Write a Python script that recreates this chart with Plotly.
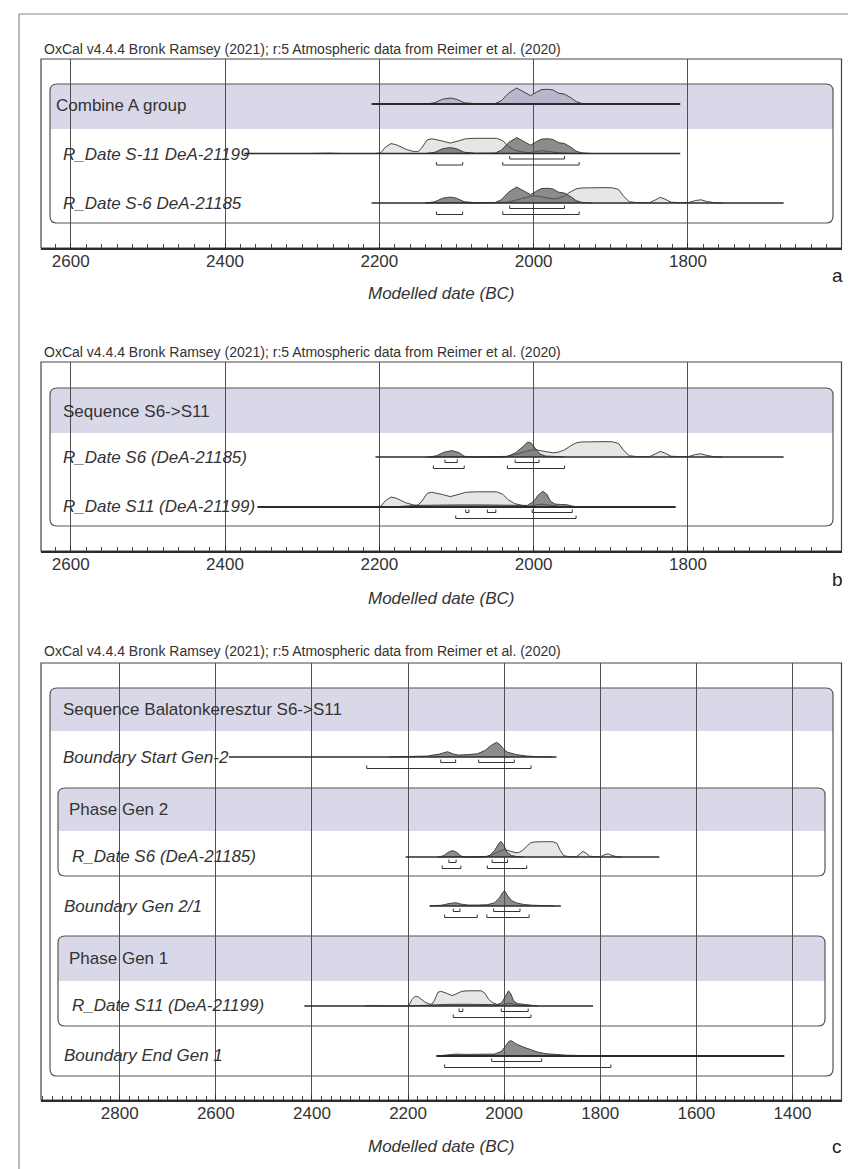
import plotly.graph_objects as go

W, H = 856, 1169

# ---------------- data (years BC, relative probability 0-100) ----------------
TICKS_AB = [2600, 2400, 2200, 2000, 1800]
TICKS_C = [2800, 2600, 2400, 2200, 2000, 1800, 1600, 1400]

# Combined posterior (Combine A group) - same for S-11 and S-6 inside the combine
COMBINE_YEARS = [2140, 2128, 2118, 2108, 2100, 2090, 2075, 2050, 2042, 2032, 2022, 2014,
                 2004, 1996, 1990, 1982, 1975, 1968, 1960, 1952, 1945, 1938, 1925]
COMBINE_DENS = [0, 8, 30, 37, 30, 8, 2, 3, 20, 70, 100, 80,
                52, 75, 90, 92, 88, 68, 62, 40, 15, 4, 0]

# Unmodelled likelihoods
S11_LIK_YEARS = [2290, 2275, 2265, 2250, 2205, 2198, 2192, 2185, 2178, 2165, 2155, 2150,
                 2145, 2138, 2132, 2120, 2108, 2098, 2088, 2075, 2060, 2048, 2040, 2033,
                 2025, 2015, 2005, 1998, 1990, 1983, 1975, 1965, 1955, 1945]
S11_LIK_DENS = [0, 2, 2, 0, 0, 5, 40, 62, 55, 25, 12, 12,
                35, 85, 92, 80, 65, 78, 92, 95, 96, 95, 80, 45,
                22, 10, 5, 12, 18, 14, 8, 3, 1, 0]

S6_LIK_YEARS = [2140, 2125, 2110, 2095, 2080, 2045, 2035, 2025, 2015, 2005, 1997, 1990,
                1982, 1975, 1968, 1960, 1952, 1945, 1938, 1925, 1910, 1898, 1890, 1883,
                1876, 1865, 1850, 1842, 1836, 1830, 1822, 1810, 1798, 1790, 1783, 1776,
                1765, 1755]
S6_LIK_DENS = [0, 2, 4, 2, 0, 0, 4, 15, 30, 42, 45, 38,
               30, 26, 30, 45, 70, 88, 94, 96, 96, 95, 85, 40,
               8, 2, 2, 20, 35, 25, 5, 2, 4, 16, 20, 10,
               1, 0]

# Panel b posteriors
S6_POST_B_YEARS = [2135, 2126, 2116, 2106, 2097, 2090, 2080, 2040, 2033, 2024, 2015, 2008,
                   2004, 1998, 1992, 1985, 1975, 1960]
S6_POST_B_DENS = [0, 8, 30, 40, 28, 5, 0, 0, 5, 25, 60, 92,
                  90, 55, 20, 6, 2, 0]
S11_POST_B_YEARS = [2200, 2180, 2150, 2130, 2100, 2070, 2040, 2020, 2008, 2000, 1994, 1988,
                    1983, 1978, 1972, 1965, 1957, 1950, 1943, 1930]
S11_POST_B_DENS = [0, 2, 10, 12, 13, 13, 12, 9, 10, 35, 75, 98,
                   80, 35, 18, 16, 14, 6, 1, 0]

# Panel c posteriors
START2_YEARS = [2240, 2200, 2160, 2135, 2118, 2105, 2095, 2075, 2056, 2040, 2028, 2016,
                2008, 2000, 1993, 1975, 1953, 1930, 1900]
START2_DENS = [0, 2, 6, 18, 33, 18, 12, 15, 20, 40, 70, 92,
               75, 45, 30, 15, 6, 2, 0]
S6_POST_C_YEARS = [2135, 2125, 2115, 2107, 2098, 2090, 2080, 2040, 2030, 2020, 2012, 2007,
                   2000, 1994, 1985, 1975, 1960]
S6_POST_C_DENS = [0, 10, 32, 40, 28, 6, 0, 0, 10, 40, 80, 98,
                  70, 30, 10, 3, 0]
GEN21_YEARS = [2155, 2130, 2115, 2101, 2090, 2075, 2055, 2035, 2020, 2010, 2003, 1999,
               1994, 1985, 1975, 1960, 1942, 1920, 1895]
GEN21_DENS = [0, 5, 15, 21, 12, 6, 6, 8, 20, 50, 85, 95,
              70, 35, 20, 10, 5, 2, 0]
S11_POST_C_YEARS = [2200, 2150, 2120, 2080, 2040, 2015, 2005, 1997, 1991, 1986, 1980, 1972,
                    1962, 1952, 1943, 1930]
S11_POST_C_DENS = [0, 8, 10, 11, 10, 8, 20, 60, 95, 75, 30, 15,
                   12, 8, 2, 0]
END1_YEARS = [2141, 2120, 2100, 2080, 2050, 2020, 2005, 1997, 1990, 1985, 1975, 1960,
              1945, 1931, 1915, 1896, 1870, 1840, 1800, 1780]
END1_DENS = [0, 8, 12, 10, 10, 12, 30, 65, 92, 95, 75, 56,
             38, 25, 15, 9, 5, 3, 1, 0]

# Ranges: 68.3% and 95.4% (from, to) in years BC
A_S11_R68 = [(2031, 1960)]
A_S11_R95 = [(2126, 2092), (2040, 1941)]
A_S6_R68 = [(2031, 1960)]
A_S6_R95 = [(2126, 2092), (2040, 1941)]
B_S6_R68 = [(2115, 2099), (2024, 1993)]
B_S6_R95 = [(2130, 2090), (2034, 1960)]
B_S11_R68 = [(2088, 2084), (2060, 2049), (2002, 1950)]
B_S11_R95 = [(2101, 1945)]
C_START_R68 = [(2132, 2101), (2053, 1979)]
C_START_R95 = [(2286, 1944)]
C_S6_R68 = [(2115, 2100), (2025, 1993)]
C_S6_R95 = [(2129, 2090), (2035, 1953)]
C_GEN21_R68 = [(2106, 2092), (2022, 1967)]
C_GEN21_R95 = [(2124, 2056), (2036, 1948)]
C_S11_R68 = [(2094, 2086), (2006, 1950)]
C_S11_R95 = [(2106, 1944)]
C_END_R68 = [(2026, 1922)]
C_END_R95 = [(2124, 1778)]

# Extent of each result line (years BC)
A_COMBINE_SPAN = (2210, 1810)
A_S11_SPAN = (2375, 1810)
A_S6_SPAN = (2210, 1676)
B_S6_SPAN = (2205, 1676)
B_S11_SPAN = (2358, 1816)
C_START_SPAN = (2573, 1891)
C_S6_SPAN = (2205, 1677)
C_GEN21_SPAN = (2155, 1882)
C_S11_SPAN = (2416, 1815)
C_END_SPAN = (2141, 1417)

TITLE = "OxCal v4.4.4 Bronk Ramsey (2021); r:5 Atmospheric data from Reimer et al. (2020)"
XLABEL = "Modelled date (BC)"

# ---------------- style ----------------
FONT = "Liberation Sans, Arial, sans-serif"
TXT = "#333333"
LINE = "#2b2b2b"
HEADER = "#d9d8e9"
BOXLINE = "#555555"
LIGHT = "#e6e6e6"
DARK = "rgba(85,85,85,0.68)"
COMB = "#b7b6cb"
HMAX = 16.0
FR_L, FR_R = 33, 833.5


def PX(x):
    return x / W


def PY(y):
    return 1 - y / H


def to_path(p):
    out = []
    for seg in p:
        cmd = seg[0]
        coords = seg[1:]
        pts = []
        for i in range(0, len(coords), 2):
            pts.append(f"{PX(coords[i]):.5f},{PY(coords[i + 1]):.5f}")
        out.append(cmd + " " + " ".join(pts))
    return " ".join(out)


def box_path(x0, y0, x1, y1, r):
    p = [("M", x0 + r, y0), ("L", x1 - r, y0), ("Q", x1, y0, x1, y0 + r), ("L", x1, y1 - r),
         ("Q", x1, y1, x1 - r, y1), ("L", x0 + r, y1), ("Q", x0, y1, x0, y1 - r),
         ("L", x0, y0 + r), ("Q", x0, y0, x0 + r, y0)]
    return to_path(p) + " Z"


def header_path(x0, y0, x1, y1, r):
    p = [("M", x0, y1), ("L", x0, y0 + r), ("Q", x0, y0, x0 + r, y0), ("L", x1 - r, y0),
         ("Q", x1, y0, x1, y0 + r), ("L", x1, y1)]
    return to_path(p) + " Z"


fig = go.Figure()
shapes = []
annotations = []

# outer border of the figure (left and top)
shapes.append(dict(type="line", xref="paper", yref="paper", x0=PX(11), x1=PX(11), y0=PY(6), y1=0,
                   line=dict(color="#8a8a8a", width=1.2), layer="below"))
shapes.append(dict(type="line", xref="paper", yref="paper", x0=PX(11), x1=1, y0=PY(6), y1=PY(6),
                   line=dict(color="#8a8a8a", width=1.2), layer="below"))

panels = [
    dict(ax="", top=51, axis=240, xr=[2638.5, 1601], ticks=TICKS_AB, title_y=41, mod_y=286,
         letter="a", letter_y=268),
    dict(ax="2", top=354, axis=543, xr=[2638.5, 1601], ticks=TICKS_AB, title_y=344, mod_y=590,
         letter="b", letter_y=572),
    dict(ax="3", top=655, axis=1092, xr=[2963.8, 1298], ticks=TICKS_C, title_y=643, mod_y=1138,
         letter="c", letter_y=1138),
]

# boxes: (x0, y0, x1, y1, header_bottom)
boxes = [
    (42, 76, 825, 215, 121),
    (42, 380, 825, 518, 425),
    (42, 680, 825, 1068, 723),
    (50, 780, 817, 868, 823),
    (50, 928, 817, 1018, 973),
]
for (x0, y0, x1, y1, hb) in boxes:
    shapes.append(dict(type="path", xref="paper", yref="paper", path=header_path(x0, y0, x1, hb, 7),
                       fillcolor=HEADER, line=dict(width=0), layer="below"))
for (x0, y0, x1, y1, hb) in boxes:
    shapes.append(dict(type="path", xref="paper", yref="paper", path=box_path(x0, y0, x1, y1, 7),
                       fillcolor="rgba(0,0,0,0)", line=dict(color=BOXLINE, width=1.2), layer="below"))

layout_axes = {}
for p in panels:
    ax = p["ax"]
    xname = "xaxis" + ax
    yname = "yaxis" + ax
    ydom = [PY(p["axis"]), PY(p["top"])]
    layout_axes[xname] = dict(
        domain=[PX(FR_L), PX(FR_R)], range=p["xr"], anchor="y" + ax,
        tickmode="array", tickvals=p["ticks"], ticktext=[str(t) for t in p["ticks"]],
        showgrid=True, gridcolor="#505050", gridwidth=1, zeroline=False,
        showline=True, linecolor=LINE, linewidth=2,
        ticks="inside", ticklen=5, tickcolor=LINE, tickwidth=1,
        minor=dict(tickmode="linear", tick0=0, dtick=20, ticks="inside", ticklen=4,
                   tickcolor="#444444", tickwidth=1, showgrid=False),
        tickfont=dict(family=FONT, size=17, color=TXT), ticklabelstandoff=-3,
        fixedrange=True,
    )
    layout_axes[yname] = dict(domain=ydom, range=[p["axis"], p["top"]], anchor="x" + ax,
                              visible=False, fixedrange=True)
    # frame
    shapes.append(dict(type="rect", xref="paper", yref="paper", x0=PX(FR_L), x1=PX(FR_R),
                       y0=PY(p["axis"]), y1=PY(p["top"]), line=dict(color="#444444", width=1.2),
                       fillcolor="rgba(0,0,0,0)", layer="below"))
    annotations.append(dict(xref="paper", yref="paper", x=PX(34), y=PY(p["title_y"]), text=TITLE,
                            showarrow=False, xanchor="left", yanchor="middle",
                            font=dict(family=FONT, size=14, color=TXT)))
    annotations.append(dict(xref="paper", yref="paper", x=PX(433), y=PY(p["mod_y"]),
                            text="<i>" + XLABEL + "</i>", showarrow=False, xanchor="center",
                            yanchor="middle", font=dict(family=FONT, size=17, color=TXT)))
    annotations.append(dict(xref="paper", yref="paper", x=PX(829), y=PY(p["letter_y"]),
                            text=p["letter"], showarrow=False, xanchor="center", yanchor="middle",
                            font=dict(family=FONT, size=19, color="#222222")))

# row labels: (text, x px, y px, italic)
labels = [
    ("Combine A group", 46, 97, False),
    ("R_Date S-11 DeA-21199", 53, 146, True),
    ("R_Date S-6 DeA-21185", 53, 195, True),
    ("Sequence S6->S11", 53, 403, False),
    ("R_Date S6 (DeA-21185)", 53, 449, True),
    ("R_Date S11 (DeA-21199)", 53, 498, True),
    ("Sequence Balatonkeresztur S6->S11", 53, 701, False),
    ("Boundary Start Gen-2", 53, 749, True),
    ("Phase Gen 2", 59, 801, False),
    ("R_Date S6 (DeA-21185)", 62, 848, True),
    ("Boundary Gen 2/1", 54, 898, True),
    ("Phase Gen 1", 59, 950, False),
    ("R_Date S11 (DeA-21199)", 62, 997, True),
    ("Boundary End Gen 1", 54, 1047, True),
]
for text, x, y, it in labels:
    t = text.replace(">", "&gt;")
    annotations.append(dict(xref="paper", yref="paper", x=PX(x), y=PY(y),
                            text=("<i>" + t + "</i>") if it else t, showarrow=False,
                            xanchor="left", yanchor="middle",
                            font=dict(family=FONT, size=17, color=TXT)))

# result rows
rows = [
    # ax, baseline, span, likelihood, posterior, post colour, r68, r95, line width
    ("", 96, A_COMBINE_SPAN, None, (COMBINE_YEARS, COMBINE_DENS), COMB, [], [], 2),
    ("", 145.5, A_S11_SPAN, (S11_LIK_YEARS, S11_LIK_DENS), (COMBINE_YEARS, COMBINE_DENS), DARK,
     A_S11_R68, A_S11_R95, 1.5),
    ("", 195, A_S6_SPAN, (S6_LIK_YEARS, S6_LIK_DENS), (COMBINE_YEARS, COMBINE_DENS), DARK,
     A_S6_R68, A_S6_R95, 1.5),
    ("2", 449, B_S6_SPAN, (S6_LIK_YEARS, S6_LIK_DENS), (S6_POST_B_YEARS, S6_POST_B_DENS), DARK,
     B_S6_R68, B_S6_R95, 1.5),
    ("2", 499, B_S11_SPAN, (S11_LIK_YEARS, S11_LIK_DENS), (S11_POST_B_YEARS, S11_POST_B_DENS), DARK,
     B_S11_R68, B_S11_R95, 1.8),
    ("3", 749, C_START_SPAN, None, (START2_YEARS, START2_DENS), DARK, C_START_R68, C_START_R95, 1.5),
    ("3", 849, C_S6_SPAN, (S6_LIK_YEARS, S6_LIK_DENS), (S6_POST_C_YEARS, S6_POST_C_DENS), DARK,
     C_S6_R68, C_S6_R95, 1.5),
    ("3", 898, C_GEN21_SPAN, None, (GEN21_YEARS, GEN21_DENS), DARK, C_GEN21_R68, C_GEN21_R95, 1.5),
    ("3", 998, C_S11_SPAN, (S11_LIK_YEARS, S11_LIK_DENS), (S11_POST_C_YEARS, S11_POST_C_DENS), DARK,
     C_S11_R68, C_S11_R95, 1.5),
    ("3", 1048, C_END_SPAN, None, (END1_YEARS, END1_DENS), DARK, C_END_R68, C_END_R95, 1.8),
]


def add_dist(ax, base, years, dens, fill):
    fig.add_trace(go.Scatter(x=list(years), y=[base - d / 100.0 * HMAX for d in dens],
                             xaxis="x" + ax, yaxis="y" + ax, mode="lines", fill="toself",
                             fillcolor=fill, line=dict(color="#333333", width=0.9),
                             hoverinfo="skip", showlegend=False))


for ax, base, span, lik, post, pcol, r68, r95, lw in rows:
    if lik is not None:
        add_dist(ax, base, lik[0], lik[1], LIGHT)
    add_dist(ax, base, post[0], post[1], pcol)
    fig.add_trace(go.Scatter(x=list(span), y=[base, base], xaxis="x" + ax, yaxis="y" + ax,
                             mode="lines", line=dict(color=LINE, width=lw), hoverinfo="skip",
                             showlegend=False))
    for rr, off in ((r68, 5.5), (r95, 11.5)):
        xs, ys = [], []
        for a, b in rr:
            yb = base + off
            xs += [a, a, b, b, None]
            ys += [yb - 3, yb, yb, yb - 3, None]
        if xs:
            fig.add_trace(go.Scatter(x=xs, y=ys, xaxis="x" + ax, yaxis="y" + ax, mode="lines",
                                     line=dict(color="#333333", width=1), hoverinfo="skip",
                                     showlegend=False))

fig.update_layout(width=W, height=H, margin=dict(l=0, r=0, t=0, b=0), paper_bgcolor="white",
                  plot_bgcolor="rgba(0,0,0,0)", shapes=shapes, annotations=annotations,
                  showlegend=False, **layout_axes)

fig.write_html("out.html", config=dict(displayModeBar=False, staticPlot=True))
